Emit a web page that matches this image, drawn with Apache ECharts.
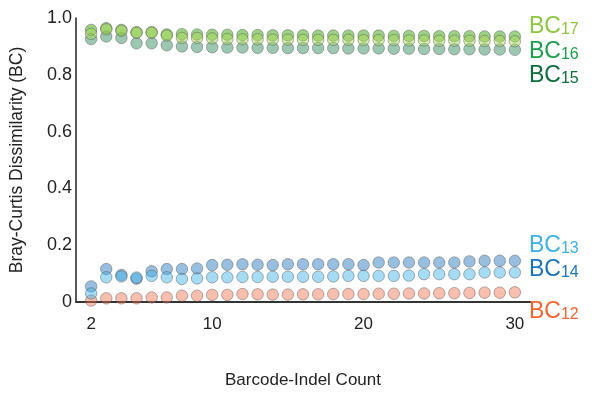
<!DOCTYPE html>
<html>
<head>
<meta charset="utf-8">
<script src="https://cdn.jsdelivr.net/npm/echarts@6/dist/echarts.min.js"></script>
<style>html,body{margin:0;padding:0;background:#fff}#c{width:594px;height:394px}</style>
</head>
<body>
<div id="c"></div>
<script>
var counts = [2,3,4,5,6,7,8,9,10,11,12,13,14,15,16,17,18,19,20,21,22,23,24,25,26,27,28,29,30];
var xTickLabels = [2,10,20,30];
var yTickLabels = [0,0.2,0.4,0.6,0.8,1.0];
var BC12 = [0.005,0.013,0.013,0.013,0.016,0.016,0.022,0.022,0.025,0.025,0.028,0.027,0.026,0.026,0.027,0.027,0.028,0.028,0.028,0.029,0.029,0.030,0.030,0.031,0.031,0.032,0.033,0.033,0.034];
var BC13 = [0.030,0.087,0.090,0.086,0.092,0.087,0.081,0.083,0.087,0.087,0.088,0.088,0.089,0.089,0.089,0.089,0.090,0.092,0.092,0.092,0.092,0.093,0.098,0.098,0.098,0.098,0.104,0.104,0.104];
var BC14 = [0.055,0.116,0.095,0.082,0.108,0.116,0.116,0.118,0.130,0.131,0.133,0.131,0.130,0.133,0.133,0.133,0.133,0.133,0.130,0.139,0.139,0.139,0.139,0.139,0.139,0.143,0.145,0.145,0.145];
var BC15 = [0.926,0.935,0.930,0.911,0.911,0.904,0.900,0.898,0.897,0.896,0.896,0.895,0.895,0.894,0.894,0.894,0.894,0.893,0.893,0.893,0.892,0.892,0.891,0.891,0.890,0.890,0.889,0.889,0.888];
var BC16 = [0.958,0.964,0.958,0.950,0.950,0.942,0.943,0.942,0.941,0.941,0.940,0.940,0.939,0.939,0.939,0.938,0.938,0.938,0.938,0.938,0.937,0.937,0.937,0.936,0.936,0.936,0.935,0.935,0.935];
var BC17 = [0.944,0.960,0.955,0.948,0.948,0.938,0.930,0.930,0.928,0.926,0.925,0.925,0.924,0.924,0.923,0.923,0.923,0.923,0.922,0.922,0.922,0.921,0.921,0.920,0.920,0.920,0.919,0.919,0.918];

function pairs(vals){ return counts.map(function(c,i){ return [c, vals[i]]; }); }
var font = 'Arial, "Liberation Sans", sans-serif';
function sc(name, vals, fill){
  return {name:name, type:'scatter', data:pairs(vals), symbolSize:11.5,
    itemStyle:{color:fill, borderColor:'rgba(80,80,80,0.55)', borderWidth:1}};
}
var labels = [
  {t:'17', c:'#8dc63f', y:15},
  {t:'16', c:'#1c9e4b', y:40},
  {t:'15', c:'#0b6e3c', y:64},
  {t:'13', c:'#3db0e6', y:234},
  {t:'14', c:'#1a74ba', y:258},
  {t:'12', c:'#f26531', y:300}
];
var chart = echarts.init(document.getElementById('c'));
chart.setOption({
  animation:false,
  grid:{left:74, right:64, top:18, bottom:91},
  xAxis:{type:'value', min:1, max:31, interval:1,
    axisLine:{lineStyle:{color:'#333', width:2}}, axisTick:{show:false}, splitLine:{show:false},
    axisLabel:{fontFamily:font, fontSize:17, color:'#222', margin:14,
      formatter:function(v){ return xTickLabels.indexOf(v)>=0 ? String(v) : ''; }},
    name:'Barcode-Indel Count', nameLocation:'middle', nameGap:70,
    nameTextStyle:{fontFamily:font, fontSize:17, color:'#222'}},
  yAxis:{type:'value', min:0, max:1, interval:0.2,
    axisLine:{show:true, lineStyle:{color:'#222', width:1.5}}, axisTick:{show:false}, splitLine:{show:false},
    axisLabel:{fontFamily:font, fontSize:18, color:'#222', margin:4,
      formatter:function(v){ var r=Math.round(v*10)/10; return yTickLabels.indexOf(r)>=0 ? (r===0?'0':r.toFixed(1)) : ''; }},
    name:'Bray-Curtis Dissimilarity (BC)', nameLocation:'middle', nameGap:50,
    nameTextStyle:{fontFamily:font, fontSize:17.5, color:'#222'}},
  graphic: labels.map(function(l){
    return {type:'text', left:529, top:l.y, style:{
      text:'{a|BC}{b|'+l.t+'}', rich:{
        a:{fontFamily:font, fontSize:23, fill:l.c, verticalAlign:'bottom'},
        b:{fontFamily:font, fontSize:16, fill:l.c, padding:[11,0,0,0]}
      }}};
  }),
  series:[
    sc('BC12', BC12, 'rgba(242,110,70,0.55)'),
    sc('BC14', BC14, 'rgba(40,120,190,0.6)'),
    sc('BC13', BC13, 'rgba(70,180,232,0.6)'),
    sc('BC15', BC15, 'rgba(30,130,80,0.55)'),
    sc('BC16', BC16, 'rgba(80,175,40,0.7)'),
    sc('BC17', BC17, 'rgba(170,215,90,0.6)')
  ]
});
</script>
</body>
</html>
